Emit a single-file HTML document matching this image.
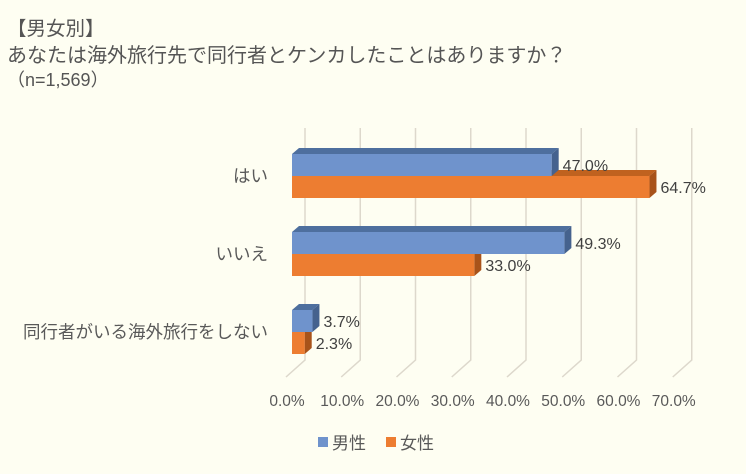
<!DOCTYPE html>
<html><head><meta charset="utf-8">
<style>
html,body{margin:0;padding:0;background:#fefef2;}
body{width:746px;height:474px;position:relative;overflow:hidden;font-family:"Liberation Sans","Noto Sans CJK JP",sans-serif;color:#555;}
.t{position:absolute;left:7px;white-space:nowrap;}
</style></head><body>
<div class="t" style="top:12px;font-size:19.5px;">【男女別】</div>
<div class="t" style="top:39px;font-size:20px;">あなたは海外旅行先で同行者とケンカしたことはありますか？</div>
<div class="t" style="top:66px;font-size:18px;">（n=1,569）</div>
<svg id="chart" width="746" height="474" style="position:absolute;left:0;top:0"></svg>
<script>
const categories=["はい","いいえ","同行者がいる海外旅行をしない"];
const maleValues=[47.0,49.3,3.7];
const femaleValues=[64.7,33.0,2.3];
const tickLabels=["0.0%","10.0%","20.0%","30.0%","40.0%","50.0%","60.0%","70.0%"];
const tickValues=[0,10,20,30,40,50,60,70];
const seriesNames=["男性","女性"];

const NS="http://www.w3.org/2000/svg";
const svg=document.getElementById('chart');
const x0=292, k=5.525, dx=7, dy=-6;
const X=v=>x0+v*k;
const catY=i=>154+i*78;
const bh=22;
function mk(t,a,p){const e=document.createElementNS(NS,t);for(const n in a)e.setAttribute(n,a[n]);(p||svg).appendChild(e);return e;}
tickValues.forEach((v,i)=>{
  const bx=X(v)+13, by=360;
  const g=mk('path',{d:`M${bx},128 L${bx},${by} L${X(v)-6},377`,fill:'none',stroke:'#ddd8cc','stroke-width':1.5});
  
  
  const t=mk('text',{x:X(v)-5,y:406,'font-size':15.5,fill:'#595959','text-anchor':'middle'});
  t.textContent=tickLabels[i];
  
  
});
function bar(v,y,front,top,side,name){
  const g=mk('g',{});
  
  
  const xe=X(v);
  mk('polygon',{points:`${x0},${y} ${x0+dx},${y+dy} ${xe+dx},${y+dy} ${xe},${y}`,fill:top},g);
  mk('polygon',{points:`${xe},${y} ${xe+dx},${y+dy} ${xe+dx},${y+bh+dy} ${xe},${y+bh}`,fill:side},g);
  mk('rect',{x:x0,y:y,width:xe-x0,height:bh,fill:front},g);
  const t=mk('text',{x:xe+dx+4,y:y+bh/2+6,'font-size':16,fill:'#404040'});
  t.textContent=v.toFixed(1)+'%';
  
  
}
categories.forEach((c,i)=>{
  const y=catY(i);
  const t=mk('text',{x:268,y:y+bh+6,'font-size':17.5,fill:'#595959','text-anchor':'end'});
  t.textContent=c;
  
  
  bar(femaleValues[i],y+bh,'#ed7d31','#c0621f','#a8531a','bar-female');
  bar(maleValues[i],y,'#6f93cc','#4e6f9e','#45628e','bar-male');
});
[[318,'#6f93cc'],[386,'#ed7d31']].forEach((l,i)=>{
  const g=mk('g',{});
  
  
  mk('rect',{x:l[0],y:437,width:10,height:10,fill:l[1]},g);
  const t=mk('text',{x:l[0]+14,y:449,'font-size':17,fill:'#595959'},g);
  t.textContent=seriesNames[i];
});
</script>
</body></html>
